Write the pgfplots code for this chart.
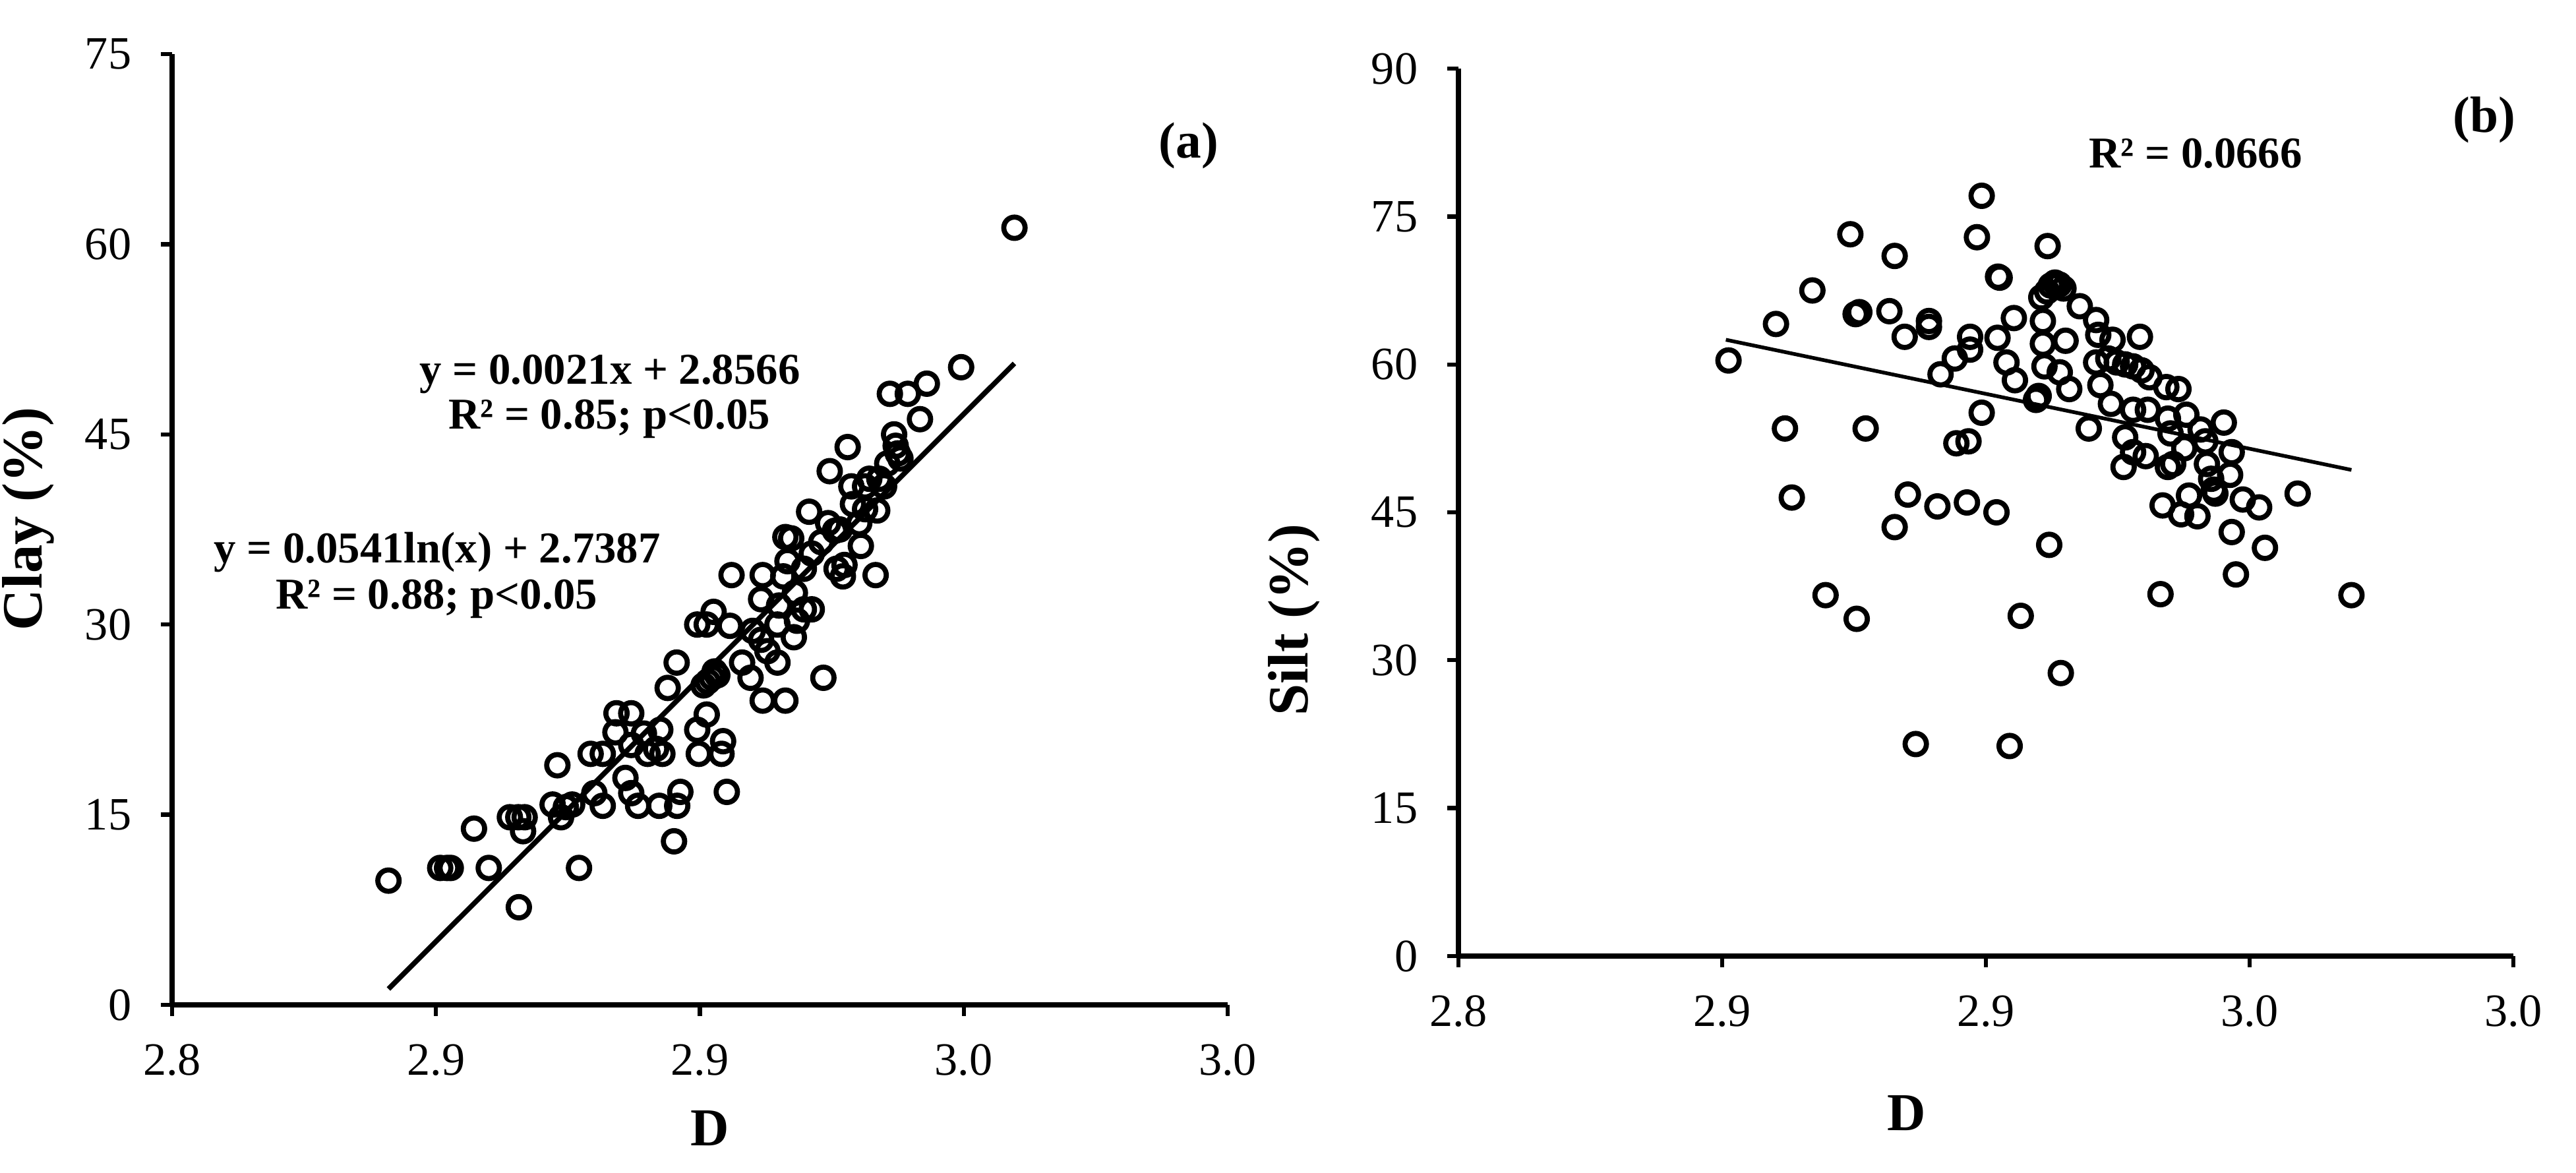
\documentclass[border=0pt]{standalone}
\usepackage{pgfplots}
\pgfplotsset{compat=1.18}
\usepackage{fontspec}
\setmainfont{Liberation Serif}

\pgfplotsset{
  soilax/.style={
    scale only axis,
    axis lines=left,
    axis line style={-, line width=1.1pt},
    tick style={line width=0.9pt, black},
    tick align=outside,
    major tick length=0.085cm,
    xmin=2.8, xmax=3.0,
    xtick={2.80,2.85,2.90,2.95,3.00},
    xticklabels={2.8,2.9,2.9,3.0,3.0},
    ymin=0,
    ticklabel style={font=\fontsize{10}{12}\selectfont},
    xticklabel style={yshift=-0.09cm},
    yticklabel style={xshift=-0.1cm},
    /pgf/number format/assume math mode=true,
    clip=false,
  },
  pts/.style={only marks, mark=o, mark size=2.3pt, mark options={line width=1.1pt, black}},
}

\begin{document}
\begin{tikzpicture}
\path[use as bounding box] (0,0) rectangle (19.535,8.895);

% (a) clay
\begin{axis}[soilax, at={(1.305cm,1.275cm)}, width=8.005cm, height=7.21cm,
  ymax=75, ytick={0,15,...,75}]
\addplot[pts] coordinates {
(2.8410,9.8) (2.8508,10.8) (2.8521,10.8) (2.8528,10.8) (2.8600,10.8)
(2.8572,13.9) (2.8657,7.7) (2.8640,14.8) (2.8656,14.8) (2.8668,14.8)
(2.8665,13.7) (2.8730,18.9) (2.8721,15.8) (2.8737,14.8) (2.8746,15.6)
(2.8758,15.8) (2.8771,10.8) (2.8793,19.8) (2.8816,19.8) (2.8800,16.7)
(2.8816,15.7) (2.8842,23.0) (2.8870,23.0) (2.8859,17.9) (2.8870,16.7)
(2.8883,15.7) (2.8894,21.4) (2.8925,21.7) (2.8917,20.2) (2.8929,19.8)
(2.8901,19.8) (2.8923,15.7) (2.8951,12.9) (2.8963,16.8) (2.8957,15.7)
(2.8939,25.0) (2.8956,27.0) (2.8995,21.7) (2.8998,19.8) (2.9013,22.9)
(2.8995,30.0) (2.9013,30.0) (2.9007,25.2) (2.9023,25.8) (2.9033,26.0)
(2.9015,25.5) (2.9028,26.3) (2.9026,31.0) (2.9044,20.8) (2.9041,19.8)
(2.9051,16.8) (2.9057,29.9) (2.9060,33.9) (2.9080,27.0) (2.9096,25.8)
(2.9116,28.8) (2.9116,32.0) (2.9119,24.0) (2.9128,27.9) (2.9147,27.0)
(2.9147,30.0) (2.9119,33.9) (2.9162,24.0) (2.9158,33.8) (2.9166,35.0)
(2.9162,36.9) (2.9173,36.8) (2.9178,29.0) (2.9184,30.3) (2.9197,31.2)
(2.9207,38.9) (2.9197,34.4) (2.9212,35.6) (2.9212,31.2) (2.9234,25.8)
(2.9246,42.1) (2.9243,38.0) (2.9256,37.4) (2.9259,34.4) (2.9271,33.8)
(2.9274,34.7) (2.9280,44.0) (2.9287,40.9) (2.9302,38.0) (2.9305,36.2)
(2.9313,39.1) (2.9313,40.9) (2.9321,41.5) (2.9333,33.9) (2.9336,39.0)
(2.9349,40.9) (2.9355,42.7) (2.9368,45.0) (2.9371,44.1) (2.9375,43.5)
(2.9380,43.1) (2.9360,48.2) (2.9394,48.2) (2.9417,46.2) (2.9430,49.0)
(2.9495,50.3) (2.9596,61.3)
(2.9180,32.5) (2.9230,36.5) (2.9290,39.5) (2.9340,41.5) (2.9150,31.5)
(2.9100,29.5) (2.9265,37.5) (2.8840,21.5) (2.8870,20.5)
};
\addplot[black, line width=1.1pt] coordinates {(2.8410,1.25) (2.9596,50.6)};
\end{axis}

% (b) silt
\begin{axis}[soilax, at={(11.06cm,1.645cm)}, width=8.0cm, height=6.73cm,
  ymax=90, ytick={0,15,...,90}]
\addplot[pts] coordinates {
(2.8512,60.4) (2.8602,64.1) (2.8619,53.5) (2.8632,46.5) (2.8671,67.5)
(2.8696,36.6) (2.8743,73.2) (2.8755,34.2) (2.8753,65.1) (2.8760,65.3)
(2.8772,53.5) (2.8817,65.4) (2.8827,71.0) (2.8827,43.5) (2.8846,62.8)
(2.8852,46.8) (2.8867,21.5) (2.8892,64.4) (2.8892,63.8) (2.8908,45.6)
(2.8914,59.0) (2.8941,60.6) (2.8944,52.0) (2.8967,52.2) (2.8964,46.0)
(2.8970,62.8) (2.8970,61.5) (2.8983,72.9) (2.8992,77.1) (2.8992,55.1)
(2.9020,45.0) (2.9022,62.7) (2.9023,68.9) (2.9026,68.8) (2.9039,60.2)
(2.9045,21.3) (2.9053,64.7) (2.9055,58.4) (2.9066,34.5) (2.9095,56.4)
(2.9100,56.8) (2.9105,66.8) (2.9116,67.4) (2.9123,68.0) (2.9131,68.3)
(2.9139,68.1) (2.9147,67.7) (2.9108,64.4) (2.9108,62.1) (2.9111,59.8)
(2.9117,72.0) (2.9120,41.7) (2.9140,59.2) (2.9151,62.4) (2.9158,57.5)
(2.9142,28.7) (2.9178,65.9) (2.9195,53.5) (2.9209,64.5) (2.9213,63.0)
(2.9209,60.2) (2.9217,57.9) (2.9240,62.5) (2.9237,56.0) (2.9232,60.6)
(2.9248,60.2) (2.9264,60.0) (2.9279,59.8) (2.9295,59.4) (2.9310,58.7)
(2.9264,52.6) (2.9261,49.6) (2.9279,55.4) (2.9307,55.4) (2.9279,51.1)
(2.9303,50.7) (2.9292,62.8) (2.9331,36.7) (2.9335,45.7) (2.9342,57.7)
(2.9365,57.5) (2.9345,54.5) (2.9350,53.0) (2.9345,49.6) (2.9355,49.9)
(2.9370,44.8) (2.9380,54.9) (2.9385,46.7) (2.9376,51.5) (2.9401,44.6)
(2.9407,53.4) (2.9416,52.2) (2.9419,49.9) (2.9427,48.4) (2.9432,47.3)
(2.9435,46.9) (2.9451,54.1) (2.9463,48.8) (2.9466,51.1) (2.9466,43.0)
(2.9474,38.7) (2.9487,46.3) (2.9518,45.5) (2.9529,41.4) (2.9591,46.9)
(2.9693,36.6)
};
\addplot[black, line width=0.8pt] coordinates {(2.8507,62.5) (2.9693,49.3)};
\end{axis}

% labels and annotations
\node[rotate=90, font=\fontsize{12.3}{14}\selectfont\bfseries] at (0.215,4.96) {Clay (\%)};
\node[font=\fontsize{11.5}{14}\selectfont\bfseries] at (5.385,0.34) {D};
\node[font=\fontsize{11}{13}\selectfont\bfseries] at (9.015,7.79) {(a)};
\node[font=\fontsize{9.5}{11}\selectfont\bfseries] at (4.625,6.055) {y = 0.0021x + 2.8566};
\node[font=\fontsize{9.5}{11}\selectfont\bfseries] at (4.62,5.72) {R² = 0.85; p<0.05};
\node[font=\fontsize{9.5}{11}\selectfont\bfseries] at (3.315,4.705) {y = 0.0541ln(x) + 2.7387};
\node[font=\fontsize{9.5}{11}\selectfont\bfseries] at (3.31,4.355) {R² = 0.88; p<0.05};

\node[rotate=90, font=\fontsize{12.3}{14}\selectfont\bfseries] at (9.815,4.195) {Silt (\%)};
\node[font=\fontsize{11.5}{14}\selectfont\bfseries] at (14.46,0.455) {D};
\node[font=\fontsize{11}{13}\selectfont\bfseries] at (18.84,7.985) {(b)};
\node[font=\fontsize{9.5}{11}\selectfont\bfseries] at (16.65,7.73) {R² = 0.0666};
\end{tikzpicture}
\end{document}
